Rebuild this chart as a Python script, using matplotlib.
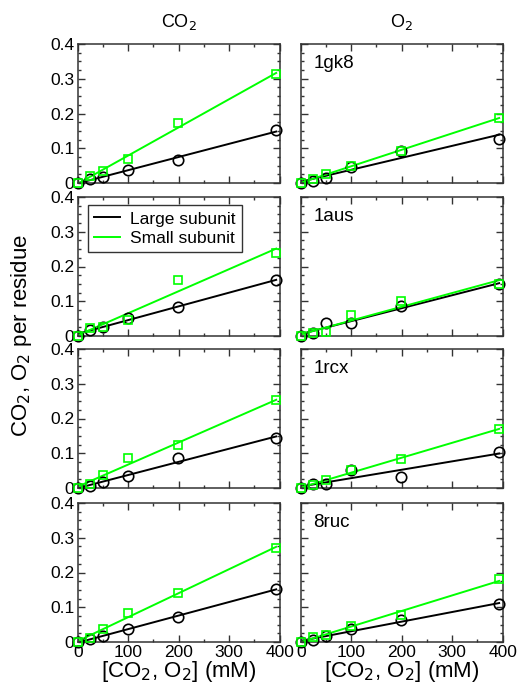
import numpy as np
import matplotlib.pyplot as plt
from matplotlib.lines import Line2D
from matplotlib.ticker import MultipleLocator, FuncFormatter

plt.rcParams['font.family'] = ['Liberation Sans', 'DejaVu Sans']

# concentrations (mM)
conc = [0, 24, 50, 100, 198, 393]

structures = ['1gk8', '1aus', '1rcx', '8ruc']

# CO2 per residue (left column)
co2_large = [
    [0, 0.012, 0.017, 0.037, 0.066, 0.152],
    [0, 0.018, 0.025, 0.053, 0.084, 0.160],
    [0, 0.005, 0.018, 0.035, 0.085, 0.144],
    [0, 0.009, 0.016, 0.036, 0.073, 0.153],
]
co2_small = [
    [0, 0.020, 0.035, 0.068, 0.172, 0.313],
    [0, 0.024, 0.026, 0.047, 0.161, 0.240],
    [0, 0.011, 0.038, 0.085, 0.123, 0.253],
    [0, 0.012, 0.037, 0.083, 0.140, 0.271],
]

# O2 per residue (right column)
o2_large = [
    [0, 0.005, 0.014, 0.046, 0.092, 0.128],
    [0, 0.009, 0.037, 0.038, 0.085, 0.149],
    [0, 0.011, 0.012, 0.051, 0.032, 0.104],
    [0, 0.007, 0.017, 0.036, 0.062, 0.109],
]
o2_small = [
    [0, 0.012, 0.027, 0.048, 0.092, 0.188],
    [0, 0.008, 0.012, 0.061, 0.102, 0.149],
    [0, 0.008, 0.024, 0.051, 0.083, 0.170],
    [0, 0.015, 0.021, 0.046, 0.079, 0.180],
]

GREEN = '#00ff00'

fig = plt.figure(figsize=(5.19, 6.87), dpi=100)

W, H = 519, 687
lefts = [77.7, 300.7]
tops = [44, 197, 349, 503]
pw, ph = 202, 139


def draw(ax, large, small):
    x = np.array(conc, dtype=float)
    for y, c, m, ms in [(large, 'black', 'o', 7.5), (small, GREEN, 's', 6)]:
        y = np.array(y)
        k, b = np.polyfit(x, y, 1)
        xf = np.array([x[0], x[-1]])
        ax.plot(xf, k * xf + b, color=c, lw=1.4, zorder=2)
        ax.plot(x, y, ls='none', marker=m, ms=ms, mfc='none', mec=c,
                mew=1.2, zorder=3, clip_on=False)
    ax.set_xlim(0, 400)
    ax.set_ylim(0, 0.4)
    ax.xaxis.set_major_locator(MultipleLocator(100))
    ax.xaxis.set_minor_locator(MultipleLocator(50))
    ax.yaxis.set_major_locator(MultipleLocator(0.1))
    ax.yaxis.set_minor_locator(MultipleLocator(0.025))
    ax.xaxis.set_major_formatter(FuncFormatter(lambda v, p: f'{v:.0f}'))
    ax.yaxis.set_major_formatter(
        FuncFormatter(lambda v, p: '0' if abs(v) < 1e-9 else f'{v:.1f}'))
    ax.tick_params(which='both', direction='in', top=True, right=True,
                   labelsize=12.5, pad=2.5, color='#333333')
    ax.tick_params(which='major', length=5, width=1)
    ax.tick_params(which='minor', length=2.5, width=1)
    for s in ax.spines.values():
        s.set_color('#333333')
        s.set_linewidth(1.1)


for r in range(4):
    for col in range(2):
        ax = fig.add_axes([lefts[col] / W, 1 - (tops[r] + ph) / H, pw / W, ph / H])
        if col == 0:
            draw(ax, co2_large[r], co2_small[r])
        else:
            draw(ax, o2_large[r], o2_small[r])
            ax.tick_params(labelleft=False)
            ax.text(0.062, 0.86, structures[r], transform=ax.transAxes,
                    fontsize=13.5, ha='left', va='center')
        if r == 3:
            ax.set_xlabel('[CO$_2$, O$_2$] (mM)', fontsize=16, labelpad=-1)
        else:
            ax.tick_params(labelbottom=False)
        if r == 0:
            ax.set_title('CO$_2$' if col == 0 else 'O$_2$', fontsize=13, pad=12)
        if r == 1 and col == 0:
            handles = [Line2D([], [], color='black', lw=1.4),
                       Line2D([], [], color=GREEN, lw=1.4)]
            leg = ax.legend(handles, ['Large subunit', 'Small subunit'],
                            loc='upper left', bbox_to_anchor=(0.05, 0.94),
                            fontsize=12.5, fancybox=False, framealpha=1,
                            edgecolor='#333333', borderpad=0.35,
                            handlelength=1.5, handletextpad=0.6,
                            labelspacing=0.25, borderaxespad=0)
            leg.get_frame().set_linewidth(1.0)

fig.text(22 / W, 1 - 335 / H, 'CO$_2$, O$_2$ per residue', rotation=90,
         fontsize=16, ha='center', va='center')

fig.savefig('out.png', dpi=100)
